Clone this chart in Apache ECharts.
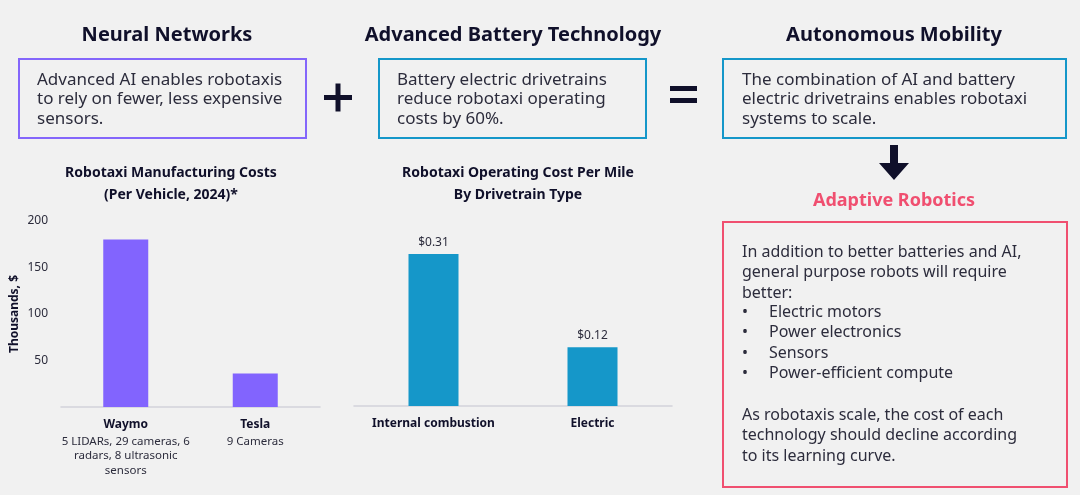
<!DOCTYPE html>
<html>
<head>
<meta charset="utf-8">
<script src="https://cdn.jsdelivr.net/npm/echarts@6/dist/echarts.min.js"></script>
<style>
  html, body { margin: 0; padding: 0; background: #f1f1f1; }
  #chart { width: 1080px; height: 495px; }
</style>
</head>
<body>
<div id="chart"></div>
<script>
  // manufacturing cost chart (thousands of $)
  var makerNames = ['Waymo', 'Tesla'];
  var makerSensors = ['5 LIDARs, 29 cameras, 6\nradars, 8 ultrasonic\nsensors', '9 Cameras'];
  var makerCost = [180, 36];
  var costTicks = [50, 100, 150, 200];

  // operating cost per mile
  var drivetrains = ['Internal combustion', 'Electric'];
  var perMile = [0.31, 0.12];

  var FONT = 'Noto Sans';
  var DARK = '#10102a';
  var BODY = '#2c2c3c';
  var PURPLE = '#8466fb';
  var BLUE = '#1597c9';
  var PINK = '#f04f70';

  var dom = document.getElementById('chart');
  var myChart = echarts.init(dom);

  function box(x, y, w, h, color) {
    return {
      type: 'rect',
      shape: { x: x, y: y, width: w, height: h },
      style: { fill: 'rgba(0,0,0,0)', stroke: color, lineWidth: 2 }
    };
  }
  function txt(x, y, text, opts) {
    opts = opts || {};
    return {
      type: 'text',
      x: x, y: y,
      style: {
        text: text,
        fill: opts.color || BODY,
        font: (opts.weight || 'normal') + ' ' + (opts.size || 16) + 'px "' + FONT + '"',
        align: opts.align || 'left',
        verticalAlign: opts.va || 'top',
        lineHeight: opts.lh || 19.5
      }
    };
  }

  var option = {
    backgroundColor: '#f1f1f1',
    textStyle: { fontFamily: FONT },
    title: [
      {
        text: 'Robotaxi Manufacturing Costs\n(Per Vehicle, 2024)*',
        left: 166, top: 157, textAlign: 'center',
        textStyle: { fontSize: 14, fontWeight: 'bold', color: DARK, lineHeight: 22 }
      },
      {
        text: 'Robotaxi Operating Cost Per Mile\nBy Drivetrain Type',
        left: 513, top: 157, textAlign: 'center',
        textStyle: { fontSize: 14, fontWeight: 'bold', color: DARK, lineHeight: 22 }
      }
    ],
    grid: [
      { left: 61, top: 221, width: 259, height: 186 },
      { left: 354, top: 210, width: 318, height: 196 }
    ],
    xAxis: [
      {
        type: 'category', gridIndex: 0, data: makerNames,
        axisTick: { show: false },
        axisLine: { lineStyle: { color: '#d2d2da', width: 1.5 } },
        axisLabel: {
          interval: 0, margin: 9, color: BODY,
          formatter: function (v, i) {
            return '{b|' + v + '}\n{s|' + makerSensors[i].split('\n').join('}\n{s|') + '}';
          },
          rich: {
            b: { fontSize: 12, fontWeight: 'bold', color: DARK, lineHeight: 18, fontFamily: FONT },
            s: { fontSize: 11.5, color: BODY, lineHeight: 14.5, fontFamily: FONT }
          }
        }
      },
      {
        type: 'category', gridIndex: 1, data: drivetrains,
        axisTick: { show: false },
        axisLine: { lineStyle: { color: '#d2d2da', width: 1.5 } },
        axisLabel: { interval: 0, margin: 12, fontSize: 12, fontWeight: 'bold', color: DARK }
      }
    ],
    yAxis: [
      {
        type: 'value', gridIndex: 0, min: 0, max: 200, interval: 50,
        name: 'Thousands, $', nameLocation: 'middle', nameGap: 40, nameRotate: 90,
        nameTextStyle: { fontSize: 12, fontWeight: 'bold', color: DARK },
        splitLine: { show: false },
        axisLine: { show: false },
        axisTick: { show: false },
        axisLabel: {
          margin: 13, fontSize: 12, color: BODY,
          formatter: function (v) { return costTicks.indexOf(v) >= 0 ? v : ''; }
        }
      },
      {
        type: 'value', gridIndex: 1, min: 0, max: 0.4, show: false,
        splitLine: { show: false }
      }
    ],
    series: [
      {
        type: 'bar', xAxisIndex: 0, yAxisIndex: 0,
        data: makerCost, barWidth: 45,
        itemStyle: { color: '#8264fe' }
      },
      {
        type: 'bar', xAxisIndex: 1, yAxisIndex: 1,
        data: perMile, barWidth: 50,
        itemStyle: { color: BLUE },
        label: {
          show: true, position: 'top', distance: 6,
          fontSize: 12, color: BODY,
          formatter: function (p) { return '$' + p.value.toFixed(2); }
        }
      }
    ],
    graphic: [
      // headings
      txt(167, 35, 'Neural Networks', { weight: 'bold', size: 20, color: DARK, align: 'center', va: 'middle' }),
      txt(513, 35, 'Advanced Battery Technology', { weight: 'bold', size: 20, color: DARK, align: 'center', va: 'middle' }),
      txt(894, 35, 'Autonomous Mobility', { weight: 'bold', size: 20, color: DARK, align: 'center', va: 'middle' }),
      // top boxes
      box(19, 59, 287, 79, PURPLE),
      box(379, 59, 267, 79, BLUE),
      box(723, 59, 343, 79, BLUE),
      txt(37, 70, 'Advanced AI enables robotaxis\nto rely on fewer, less expensive\nsensors.', { size: 17 }),
      txt(397, 70, 'Battery electric drivetrains\nreduce robotaxi operating\ncosts by 60%.', { size: 17 }),
      txt(742, 70, 'The combination of AI and battery\nelectric drivetrains enables robotaxi\nsystems to scale.', { size: 17 }),
      // plus / equals signs
      { type: 'rect', shape: { x: 324, y: 95, width: 28, height: 5 }, style: { fill: DARK } },
      { type: 'rect', shape: { x: 335.5, y: 83.5, width: 5, height: 28 }, style: { fill: DARK } },
      { type: 'rect', shape: { x: 670, y: 86, width: 27, height: 5 }, style: { fill: DARK } },
      { type: 'rect', shape: { x: 670, y: 98, width: 27, height: 5 }, style: { fill: DARK } },
      // down arrow
      {
        type: 'polygon',
        shape: { points: [[890, 145], [898, 145], [898, 163], [909, 163], [894, 180], [879, 163], [890, 163]] },
        style: { fill: DARK }
      },
      txt(894, 201, 'Adaptive Robotics', { weight: 'bold', size: 18, color: PINK, align: 'center', va: 'middle' }),
      // adaptive robotics box
      box(723, 222, 344, 265, PINK),
      txt(742, 242, 'In addition to better batteries and AI,\ngeneral purpose robots will require\nbetter:', { lh: 20.5 }),
      txt(742, 302, '•\n•\n•\n•', { lh: 20.5 }),
      txt(769, 302, 'Electric motors\nPower electronics\nSensors\nPower-efficient compute', { lh: 20.5 }),
      txt(742, 405, 'As robotaxis scale, the cost of each\ntechnology should decline according\nto its learning curve.', { lh: 20.5 })
    ]
  };

  if (option && typeof option === 'object') {
    myChart.setOption(option, true);
  }
</script>
</body>
</html>
